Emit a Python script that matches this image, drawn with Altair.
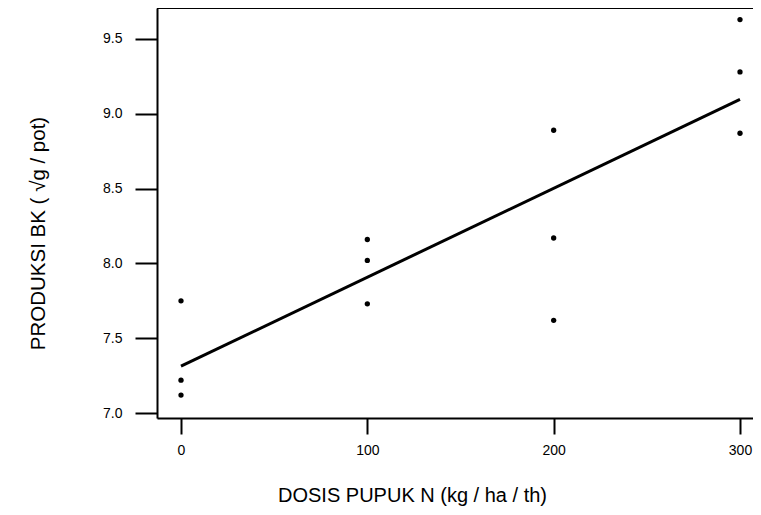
import altair as alt
import pandas as pd

dosis = [0, 0, 0, 100, 100, 100, 200, 200, 200, 300, 300, 300]
produksi = [7.75, 7.22, 7.12, 8.16, 8.02, 7.73, 8.89, 8.17, 7.62, 9.63, 9.28, 8.87]
x_ticks = [0, 100, 200, 300]
y_ticks = [7.0, 7.5, 8.0, 8.5, 9.0, 9.5]

df = pd.DataFrame({"dosis": dosis, "produksi": produksi})

FONT = "Liberation Sans"

xscale = alt.Scale(domain=[-12.88, 306.98], nice=False, zero=False)
yscale = alt.Scale(domain=[6.967, 9.707], nice=False, zero=False)

xaxis = alt.Axis(
    values=x_ticks, format="d", title="DOSIS PUPUK N (kg / ha / th)",
    titleX=255, titleY=77, titleBaseline="middle", titleAlign="center",
    titleFont=FONT, titleFontSize=20, titleFontWeight="normal", titleColor="black",
    labelFont=FONT, labelFontSize=14, labelColor="black", labelPadding=9,
    tickSize=16, tickWidth=2, tickColor="black",
    domainColor="black", domainWidth=2, grid=False,
)
yaxis = alt.Axis(
    values=y_ticks, format=".1f", title="PRODUKSI BK ( √g / pot)",
    titleX=-109, titleY=225, titleAngle=-90, titleBaseline="bottom", titleAlign="center",
    titleFont=FONT, titleFontSize=20.5, titleFontWeight="normal", titleColor="black",
    labelFont=FONT, labelFontSize=14, labelColor="black", labelPadding=13,
    tickSize=22, tickWidth=2, tickColor="black",
    domainColor="black", domainWidth=2, grid=False,
)

base = alt.Chart(df)

points = base.mark_circle(size=28, color="black", opacity=1).encode(
    x=alt.X("dosis:Q", scale=xscale, axis=xaxis),
    y=alt.Y("produksi:Q", scale=yscale, axis=yaxis),
)

line = base.transform_regression("dosis", "produksi").mark_line(
    color="black", strokeWidth=3
).encode(
    x=alt.X("dosis:Q", scale=xscale),
    y=alt.Y("produksi:Q", scale=yscale),
)

top = base.mark_rule(color="black", strokeWidth=2).encode(
    x=alt.value(0), x2=alt.value(596), y=alt.value(0)
)

chart = alt.layer(points, line, top).properties(
    width=596, height=410,
    autosize=alt.AutoSizeParams(type="none"),
    padding={"left": 149, "top": 0, "right": 0, "bottom": 89},
).configure_view(stroke=None).configure(background="white")

chart.save("out.html", embed_options={"renderer": "svg", "actions": False})
